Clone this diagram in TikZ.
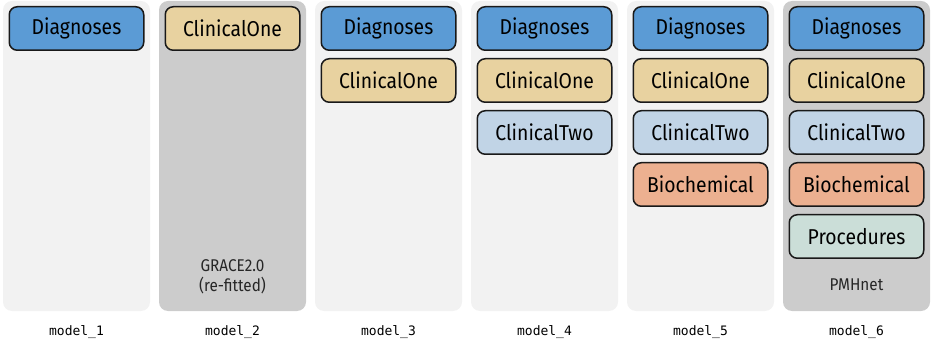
\documentclass[tikz,border=0pt]{standalone}
\usepackage{fontspec}
\setmainfont{Fira Sans}
\newfontfamily\blockfont{Fira Sans}[FakeStretch=0.9]
\setmonofont{DejaVu Sans Mono}
\usetikzlibrary{positioning}
\definecolor{diagcol}{RGB}{91,155,213}
\definecolor{cloncol}{RGB}{232,210,160}
\definecolor{cltwcol}{RGB}{193,212,230}
\definecolor{biocol}{RGB}{236,176,144}
\definecolor{proccol}{RGB}{203,222,216}
\definecolor{panellight}{RGB}{242,242,242}
\definecolor{paneldark}{RGB}{204,204,204}
\newcommand{\modelname}[1]{\texttt{model\_#1}}

\begin{document}
\begin{tikzpicture}[
                x=1pt, y=-1pt,
                panel/.style={
                    rectangle,
                    rounded corners=9pt,
                    minimum width=147pt,
                    minimum height=310pt,
                    inner sep=0pt,
                    outer sep=0pt,
                },
                light/.style={panel, fill=panellight},
                dark/.style={panel, fill=paneldark},
                block/.style={
                    rectangle,
                    rounded corners=8pt,
                    draw=black!90,
                    line width=1.5pt,
                    minimum width=134.5pt,
                    minimum height=43.5pt,
                    inner sep=0pt,
                    font=\blockfont\fontsize{21.5}{25}\selectfont,
                },
                diag/.style={block, fill=diagcol},
                clon/.style={block, fill=cloncol},
                cltw/.style={block, fill=cltwcol},
                bioc/.style={block, fill=biocol},
                proc/.style={block, fill=proccol},
                note/.style={
                    align=center,
                    text=black!85,
                    font=\blockfont\fontsize{17}{20}\selectfont,
                },
                tag/.style={font=\fontsize{13}{15}\ttfamily},
                node distance=7pt,
            ]
            \useasboundingbox (0,0) rectangle (948,339);

            % panels
            \node [light] (p1) at (76.5,156) {} ;
            \node [dark]  (p2) at (232.5,156) {} ;
            \node [light] (p3) at (388.5,156) {} ;
            \node [light] (p4) at (544.5,156) {} ;
            \node [light] (p5) at (700.5,156) {} ;
            \node [dark]  (p6) at (856.5,156) {} ;

            % model_1
            \node [diag, below=5pt of p1.north] (d1) {Diagnoses} ;
            % model_2
            \node [clon, below=5pt of p2.north] (c2) {ClinicalOne} ;
            % model_3
            \node [diag, below=5pt of p3.north] (d3) {Diagnoses} ;
            \node [clon, below=of d3] (c3) {ClinicalOne} ;
            % model_4
            \node [diag, below=5pt of p4.north] (d4) {Diagnoses} ;
            \node [clon, below=of d4] (c4) {ClinicalOne} ;
            \node [cltw, below=of c4] (t4) {ClinicalTwo} ;
            % model_5
            \node [diag, below=5pt of p5.north] (d5) {Diagnoses} ;
            \node [clon, below=of d5] (c5) {ClinicalOne} ;
            \node [cltw, below=of c5] (t5) {ClinicalTwo} ;
            \node [bioc, below=of t5] (b5) {Biochemical} ;
            % model_6
            \node [diag, below=5pt of p6.north] (d6) {Diagnoses} ;
            \node [clon, below=of d6] (c6) {ClinicalOne} ;
            \node [cltw, below=of c6] (t6) {ClinicalTwo} ;
            \node [bioc, below=of t6] (b6) {Biochemical} ;
            \node [proc, below=of b6] (r6) {Procedures} ;

            % notes inside the dark panels
            \node [note, above=14pt of p2.south] (n2) {GRACE2.0\\(re-fitted)} ;
            \node [note, above=17pt of p6.south] (n6) {PMHnet} ;

            % model names
            \foreach \i in {1,...,6} {
                \node [tag, below=11pt of p\i.south] (m\i) {\modelname{\i}} ;
            }
        \end{tikzpicture}
\end{document}
